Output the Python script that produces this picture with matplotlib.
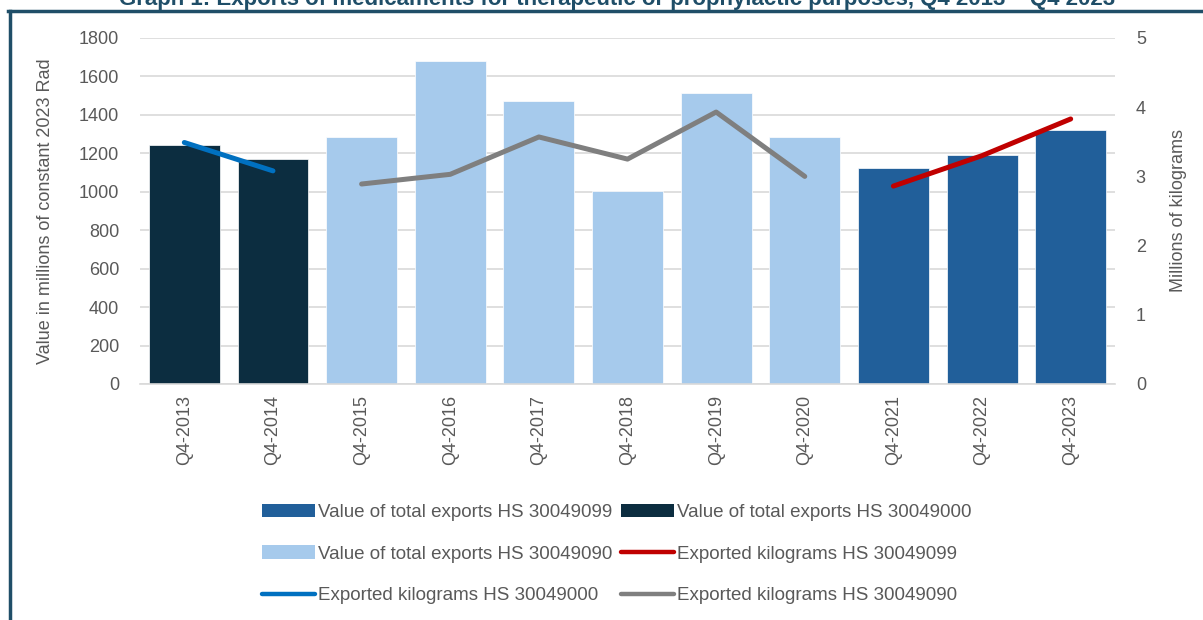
import matplotlib
matplotlib.use("Agg")
import matplotlib.pyplot as plt
from matplotlib.lines import Line2D
from matplotlib.patches import Patch
import numpy as np

plt.rcParams['font.family'] = ['Liberation Sans', 'DejaVu Sans']

categories = ["Q4-2013", "Q4-2014", "Q4-2015", "Q4-2016", "Q4-2017", "Q4-2018",
              "Q4-2019", "Q4-2020", "Q4-2021", "Q4-2022", "Q4-2023"]

# Bar series (value in millions of constant 2023 RSD)
cats_30049000 = ["Q4-2013", "Q4-2014"]
value_30049000 = [1245, 1171]
cats_30049090 = ["Q4-2015", "Q4-2016", "Q4-2017", "Q4-2018", "Q4-2019", "Q4-2020"]
value_30049090 = [1285, 1680, 1471, 1002, 1513, 1287]
cats_30049099 = ["Q4-2021", "Q4-2022", "Q4-2023"]
value_30049099 = [1124, 1189, 1321]

# Line series (millions of kilograms)
kg_30049000 = [3.49, 3.08]
kg_30049090 = [2.89, 3.03, 3.57, 3.25, 3.93, 3.00]
kg_30049099 = [2.86, 3.30, 3.83]

left_ticks = [0, 200, 400, 600, 800, 1000, 1200, 1400, 1600, 1800]
right_ticks = [0, 1, 2, 3, 4, 5]

c_dark = "#0C2D40"
c_light = "#A6CAEC"
c_mid = "#215F9A"
c_red = "#C00000"
c_blue = "#0070C0"
c_gray = "#7F7F7F"
c_text = "#595959"
c_grid = "#D9D9D9"
c_frame = "#1F4E68"

W, H = 1203, 620
fig = plt.figure(figsize=(W / 100, H / 100), dpi=100)
ax = fig.add_axes([140 / W, 1 - 384 / H, (1115 - 140) / W, (384 - 38) / H])
ax2 = ax.twinx()

idx = {c: i for i, c in enumerate(categories)}
def pos(cs):
    return [idx[c] for c in cs]

bw = 0.8
ax.bar(pos(cats_30049000), value_30049000, width=bw, color=c_dark, edgecolor="white", linewidth=0.5, zorder=2)
ax.bar(pos(cats_30049090), value_30049090, width=bw, color=c_light, edgecolor="white", linewidth=0.5, zorder=2)
ax.bar(pos(cats_30049099), value_30049099, width=bw, color=c_mid, edgecolor="white", linewidth=0.5, zorder=2)

lw = 3.6
ax2.plot(pos(cats_30049000), kg_30049000, color=c_blue, lw=lw, solid_capstyle="round", solid_joinstyle="round")
ax2.plot(pos(cats_30049090), kg_30049090, color=c_gray, lw=lw, solid_capstyle="round", solid_joinstyle="round")
ax2.plot(pos(cats_30049099), kg_30049099, color=c_red, lw=lw, solid_capstyle="round", solid_joinstyle="round")

ax.set_xlim(-0.5, len(categories) - 0.5)
ax.set_ylim(0, 1800)
ax2.set_ylim(0, 5)
ax.set_yticks(left_ticks)
ax.set_yticklabels([str(t) for t in left_ticks])
ax2.set_yticks(right_ticks)
ax2.set_yticklabels([str(t) for t in right_ticks])
ax.set_xticks(range(len(categories)))
ax.set_xticklabels(categories, rotation=90)

ax.grid(axis="y", color=c_grid, lw=1.2, zorder=0)
ax.set_axisbelow(True)
for a in (ax, ax2):
    for s in a.spines.values():
        s.set_visible(False)
ax.spines["bottom"].set_visible(True)
ax.spines["bottom"].set_color(c_grid)
ax.spines["bottom"].set_linewidth(1.2)

ax.tick_params(axis="y", length=0, pad=15, labelsize=13, labelcolor=c_text)
ax2.tick_params(axis="y", length=0, pad=15, labelsize=13, labelcolor=c_text)
ax.tick_params(axis="x", length=0, pad=8, labelsize=13, labelcolor=c_text)

ax.set_ylabel("Value in millions of constant 2023 Rad", fontsize=13, color=c_text)
ax.yaxis.set_label_coords((54 - 140) / (1115 - 140), 0.5)
ax2.set_ylabel("Millions of kilograms", fontsize=13, color=c_text, rotation=90)
ax2.yaxis.set_label_coords((1170 - 140) / (1115 - 140), 0.5)

# Legend (column-major ordering to get row-wise layout)
h_b99 = Patch(facecolor=c_mid, label="Value of total exports HS 30049099")
h_b00 = Patch(facecolor=c_dark, label="Value of total exports HS 30049000")
h_b90 = Patch(facecolor=c_light, label="Value of total exports HS 30049090")
h_k99 = Line2D([], [], color=c_red, lw=3.2, solid_capstyle="round", label="Exported kilograms HS 30049099")
h_k00 = Line2D([], [], color=c_blue, lw=3.2, solid_capstyle="round", label="Exported kilograms HS 30049000")
h_k90 = Line2D([], [], color=c_gray, lw=3.2, solid_capstyle="round", label="Exported kilograms HS 30049090")
handles = [h_b99, h_b90, h_k00, h_b00, h_k99, h_k90]
leg = fig.legend(handles=handles, loc="center", ncol=2,
                 bbox_to_anchor=(617 / W, 1 - 554 / H),
                 frameon=False, fontsize=13.5, handlelength=2.8, handleheight=0.7,
                 handletextpad=0.2, columnspacing=0.45, labelspacing=1.3)
for t in leg.get_texts():
    t.set_color(c_text)

# Frame lines (top and left)
fig.add_artist(Line2D([8 / W, 1.0], [1 - 11 / H, 1 - 11 / H], color=c_frame, lw=2.5, transform=fig.transFigure))
fig.add_artist(Line2D([10 / W, 10 / W], [1 - 11 / H, 0], color=c_frame, lw=2.5, transform=fig.transFigure))

# Title (cut off at the top edge, as in the reference)
fig.text(0.5 + 16 / W, 1 - 5 / H,
         "Graph 1: Exports of medicaments for therapeutic or prophylactic purposes, Q4 2013 \u2013 Q4 2023",
         ha="center", va="baseline", fontsize=16, fontweight="bold", color=c_frame)

fig.savefig("out.png", dpi=100)
